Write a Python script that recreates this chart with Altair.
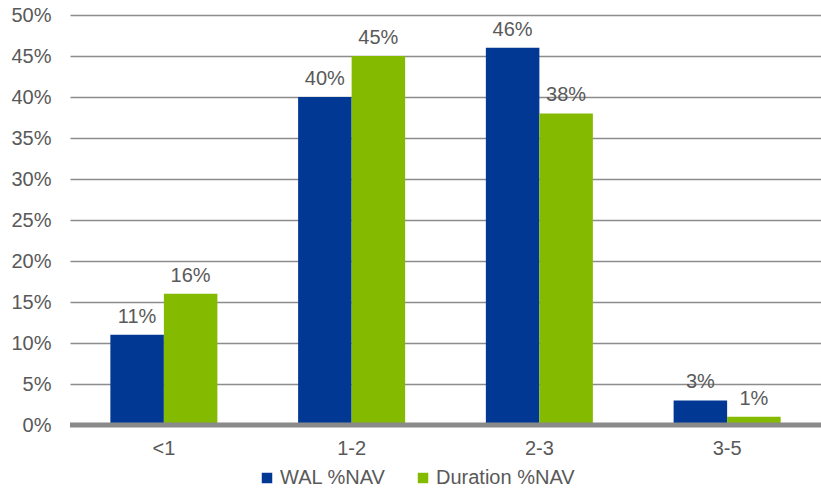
import altair as alt
import pandas as pd

# Maturity buckets (years) and the share of NAV in each
buckets = ["<1", "1-2", "2-3", "3-5"]
wal_nav = [0.11, 0.40, 0.46, 0.03]
duration_nav = [0.16, 0.45, 0.38, 0.01]
series = ["WAL %NAV", "Duration %NAV"]
colors = ["#003893", "#84bb00"]
y_ticks = [0, 0.05, 0.10, 0.15, 0.20, 0.25, 0.30, 0.35, 0.40, 0.45, 0.50]

rows = []
for b, w, d in zip(buckets, wal_nav, duration_nav):
    rows.append({"bucket": b, "series": series[0], "value": w})
    rows.append({"bucket": b, "series": series[1], "value": d})
df = pd.DataFrame(rows)

FONT = "Liberation Sans"
GREY_TEXT = "#595959"
FS = 20

x_enc = alt.X(
    "bucket:N",
    sort=buckets,
    title=None,
    scale=alt.Scale(paddingInner=0.43, paddingOuter=0.215),
    axis=alt.Axis(labelAngle=0, labelFontSize=FS, labelColor=GREY_TEXT,
                  labelFont=FONT, ticks=False, domain=False, labelPadding=13),
)
y_enc = alt.Y(
    "value:Q",
    title=None,
    scale=alt.Scale(domain=[0, 0.5], nice=False),
    axis=alt.Axis(values=y_ticks, format=".0%", labelFontSize=FS,
                  labelColor=GREY_TEXT, labelFont=FONT, ticks=False,
                  domain=False, labelPadding=19, gridColor="#8c8c8c",
                  gridWidth=1.3),
)
color_enc = alt.Color(
    "series:N",
    sort=series,
    scale=alt.Scale(domain=series, range=colors),
    legend=alt.Legend(
        title=None, orient="none", legendX=187, legendY=453,
        direction="horizontal", symbolType="square", symbolSize=110,
        symbolStrokeWidth=0, labelFontSize=FS, labelColor=GREY_TEXT,
        labelFont=FONT, labelOffset=3, columnPadding=27,
    ),
)
offset_enc = alt.XOffset("series:N", sort=series)

bars = alt.Chart(df).mark_bar().encode(
    x=x_enc, y=y_enc, color=color_enc, xOffset=offset_enc
)

labels = alt.Chart(df).mark_text(
    baseline="bottom", dy=-8, fontSize=FS, font=FONT, color=GREY_TEXT
).encode(
    x=alt.X("bucket:N", sort=buckets),
    xOffset=offset_enc,
    y="value:Q",
    text=alt.Text("value:Q", format=".0%"),
)

zero_line = alt.Chart(pd.DataFrame({"v": [0]})).mark_rule(
    color="#8a8a8a", strokeWidth=5
).encode(y="v:Q")

chart = (
    alt.layer(bars, labels, zero_line)
    .properties(
        width=751,
        height=410,
        padding={"left": 70, "top": 15, "right": 0, "bottom": 65},
        autosize=alt.AutoSizeParams(type="none"),
        background="white",
    )
    .configure_view(stroke=None)
)

chart.save("out.html", embed_options={"renderer": "svg", "actions": False})
